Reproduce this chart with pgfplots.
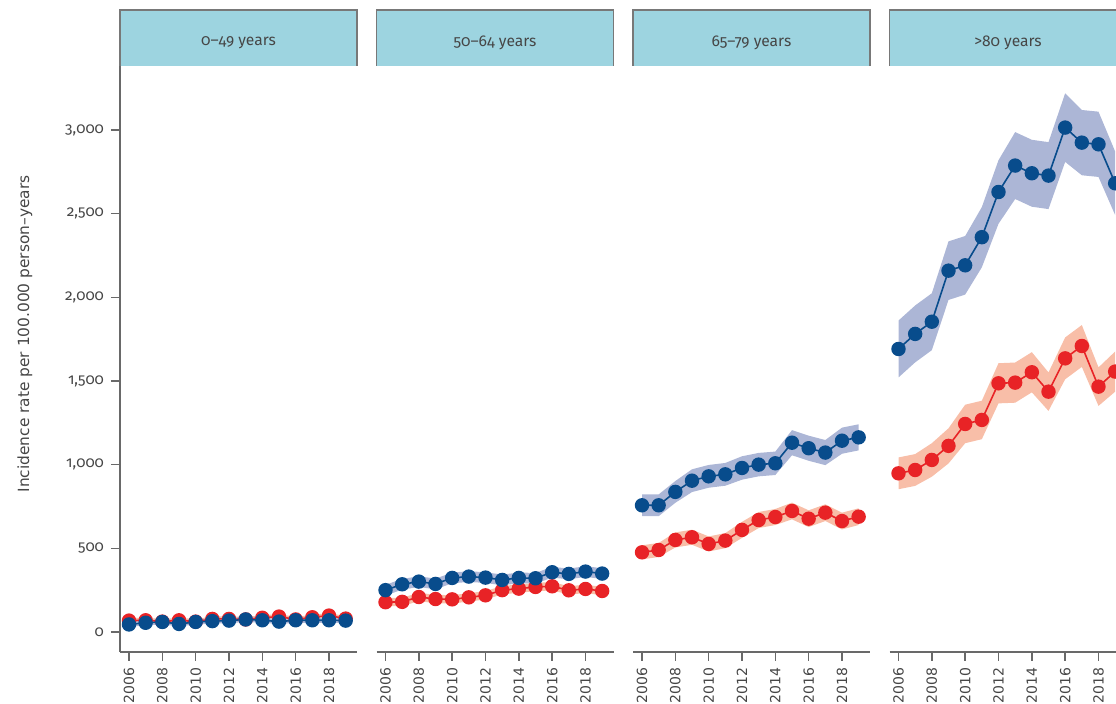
\documentclass[border=0pt]{standalone}
\usepackage{fontspec}
\setmainfont{DejaVu Sans}
\newfontfamily\oldfont[Numbers=OldStyle]{Fira Sans}
\usepackage{pgfplots}
\usepackage{pgfplotstable}
\usepgfplotslibrary{fillbetween}
\pgfplotsset{compat=1.18}

\definecolor{headerblue}{RGB}{157,212,224}
\definecolor{headerline}{RGB}{120,120,120}
\definecolor{axisgray}{RGB}{105,105,105}
\definecolor{textgray}{RGB}{70,70,70}
\definecolor{bluedot}{RGB}{8,76,140}
\definecolor{blueband}{RGB}{172,182,214}
\definecolor{reddot}{RGB}{232,35,38}
\definecolor{redband}{RGB}{248,190,168}

% yr = year, c = incidence rate, e = half-width of the interval
% 0-49 years
\pgfplotstableread{
yr c e
2006 68 15
2007 70 15
2008 62 15
2009 70 15
2010 62 15
2011 78 15
2012 78 15
2013 75 15
2014 85 15
2015 92 15
2016 75 15
2017 88 15
2018 98 15
2019 80 15
}\pAred
\pgfplotstableread{
yr c e
2006 45 15
2007 55 15
2008 60 15
2009 48 15
2010 60 15
2011 65 15
2012 68 15
2013 75 15
2014 70 15
2015 62 15
2016 70 15
2017 70 15
2018 70 15
2019 68 15
}\pAblue
% 50-64 years
\pgfplotstableread{
yr c e
2006 178 25
2007 180 25
2008 209 25
2009 197 25
2010 195 25
2011 207 25
2012 219 25
2013 250 25
2014 259 25
2015 269 25
2016 273 25
2017 249 25
2018 257 25
2019 245 25
}\pBred
\pgfplotstableread{
yr c e
2006 250 32
2007 285 32
2008 301 32
2009 287 32
2010 323 32
2011 331 32
2012 325 32
2013 311 32
2014 323 32
2015 321 32
2016 357 32
2017 347 32
2018 361 32
2019 349 32
}\pBblue
% 65-79 years
\pgfplotstableread{
yr c e
2006 476 42
2007 490 42
2008 550 45
2009 566 45
2010 526 45
2011 546 45
2012 610 48
2013 669 48
2014 687 48
2015 723 50
2016 677 50
2017 713 50
2018 663 50
2019 689 50
}\pCred
\pgfplotstableread{
yr c e
2006 757 65
2007 757 65
2008 837 65
2009 904 68
2010 930 68
2011 942 68
2012 980 70
2013 1000 70
2014 1008 70
2015 1131 75
2016 1098 75
2017 1072 75
2018 1143 78
2019 1163 78
}\pCblue
% >80 years
\pgfplotstableread{
yr c e
2006 948 95
2007 968 95
2008 1028 100
2009 1112 105
2010 1243 115
2011 1267 115
2012 1486 120
2013 1490 120
2014 1552 120
2015 1436 115
2016 1635 125
2017 1709 125
2018 1466 115
2019 1556 120
}\pDred
\pgfplotstableread{
yr c e
2006 1691 170
2007 1781 170
2008 1854 170
2009 2159 175
2010 2191 175
2011 2359 180
2012 2629 190
2013 2787 200
2014 2741 200
2015 2727 200
2016 3014 205
2017 2924 195
2018 2914 195
2019 2681 190
}\pDblue

\pgfplotsset{
  panel/.style={
    scale only axis, width=118.5pt, height=293pt,
    anchor=south west, clip=false,
    xmin=2005.46, xmax=2019.68, ymin=-119.5, ymax=3382,
    axis x line*=bottom,
    axis line style={draw=axisgray, line width=0.7pt},
    tick style={draw=axisgray, line width=0.7pt},
    tick align=outside, major tick length=4.5pt,
    xtick={2006,2008,...,2018},
    /pgf/number format/assume math mode=true,
    x tick label style={rotate=90, anchor=east, text=textgray,
      font=\fontsize{7}{8}\selectfont,
      /pgf/number format/1000 sep={}},
  },
  noy/.style={axis y line=none, ytick=\empty},
}

% interval bands for one panel (red then blue)
\newcommand{\bands}[2]{%
  \addplot[name path=ru, draw=none, forget plot] table[x=yr, y expr=\thisrow{c}+\thisrow{e}] {#1};
  \addplot[name path=rl, draw=none, forget plot] table[x=yr, y expr=\thisrow{c}-\thisrow{e}] {#1};
  \addplot[fill=redband, draw=none, forget plot] fill between[of=ru and rl];
  \addplot[name path=bu, draw=none, forget plot] table[x=yr, y expr=\thisrow{c}+\thisrow{e}] {#2};
  \addplot[name path=bl, draw=none, forget plot] table[x=yr, y expr=\thisrow{c}-\thisrow{e}] {#2};
  \addplot[fill=blueband, draw=none, forget plot] fill between[of=bu and bl];
}
% point series for one panel
\newcommand{\series}[2]{%
  \addplot[reddot, line width=0.8pt, mark=*, mark size=3.2pt, mark options={draw=none, fill=reddot}] table[x=yr, y=c] {#1};
  \addplot[bluedot, line width=0.8pt, mark=*, mark size=3.2pt, mark options={draw=none, fill=bluedot}] table[x=yr, y=c] {#2};
}
% facet header
\newcommand{\header}[2]{%
  \fill[headerblue] (#1pt,319pt) rectangle ({#1pt+118.5pt},347pt);
  \draw[headerline, line width=0.6pt] (#1pt,319pt) -- (#1pt,347pt) -- ({#1pt+118.5pt},347pt) -- ({#1pt+118.5pt},319pt);
  \node[text=textgray, font=\oldfont\fontsize{7.8}{9}\selectfont] at ({#1pt+59.25pt},330.5pt) {#2};
}

\begin{document}
\begin{tikzpicture}

\begin{axis}[panel, at={(60pt,26pt)},
  axis y line*=left,
  ytick={0,500,...,3000},
  y tick label style={text=textgray, font=\oldfont\fontsize{7.6}{9}\selectfont,
    /pgf/number format/1000 sep={,}},
]
\bands{\pAred}{\pAblue}
\series{\pAred}{\pAblue}
\end{axis}

\begin{axis}[panel, noy, at={(188.25pt,26pt)}]
\bands{\pBred}{\pBblue}
\series{\pBred}{\pBblue}
\end{axis}

\begin{axis}[panel, noy, at={(316.5pt,26pt)}]
\bands{\pCred}{\pCblue}
\series{\pCred}{\pCblue}
\end{axis}

\begin{axis}[panel, noy, at={(444.75pt,26pt)}]
\bands{\pDred}{\pDblue}
\series{\pDred}{\pDblue}
\end{axis}

\header{60}{0–49 years}
\header{188.25}{50–64 years}
\header{316.5}{65–79 years}
\header{444.75}{>80 years}

\node[rotate=90, text=textgray, font=\fontsize{7.7}{9}\selectfont] at (12.5pt,185pt)
  {Incidence rate per 100.000 person–years};

\pgfresetboundingbox
\path[use as bounding box] (0pt,0pt) rectangle (558pt,352pt);
\end{tikzpicture}
\end{document}
